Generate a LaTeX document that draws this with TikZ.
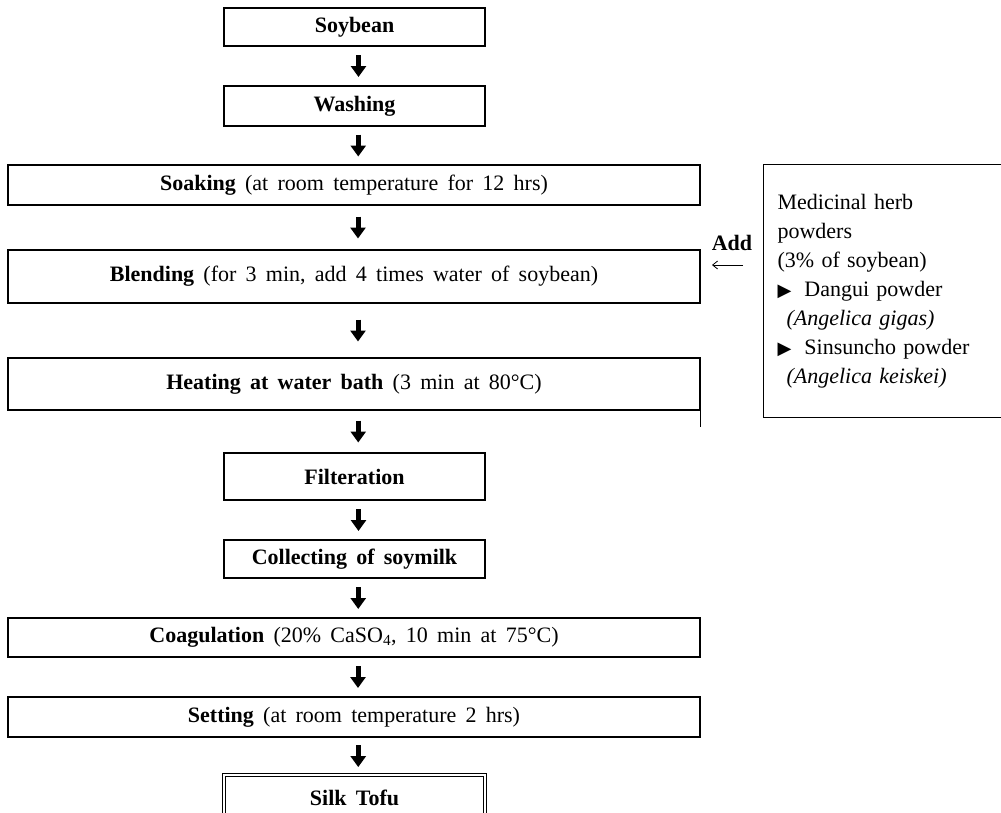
\documentclass[tikz,border=0pt]{standalone}
\usepackage{fontspec}
\setmainfont{Liberation Serif}
\newfontfamily\symf{DejaVu Sans}
\usetikzlibrary{arrows.meta,calc}
\newcommand\fsz{\fontsize{22}{29}\selectfont\spaceskip=0.42em plus 0.1em minus 0.05em}
\newcommand\hsz{\fontsize{22}{29}\selectfont\spaceskip=0.5em plus 0.1em minus 0.05em}
\newcommand\flowarrow[2]{\draw[blk] ($(#1.south)!.5!(#2.north)+(4,-11)$) -- ($(#1.south)!.5!(#2.north)+(4,11)$);}
\begin{document}
\begin{tikzpicture}[x=1pt,y=-1pt,
 box/.style={draw, line width=1.1pt, inner sep=0pt, font=\fsz},
 wide/.style={box, minimum width=692pt},
 narrow/.style={box, minimum width=261pt},
 blk/.style={line width=5pt, -{Triangle[width=15pt,length=11pt]}}]
\clip (0,0) rectangle (1001,812);
\fill[white] (0,0) rectangle (1001,812);
\node[narrow, minimum height=38pt] (soy) at (354.5,27) {\textbf{Soybean}};
\node[narrow, minimum height=40pt] (wash) at (354.5,106) {\textbf{Washing}};
\node[wide, minimum height=40pt] (soak) at (354,185) {\textbf{Soaking} (at room temperature for 12 hrs)};
\node[wide, minimum height=53pt] (blend) at (354,276.5) {\textbf{Blending} (for 3 min, add 4 times water of soybean)};
\node[wide, minimum height=52pt] (heat) at (354,384) {\textbf{Heating at water bath} (3 min at 80°C)};
\node[narrow, minimum height=47pt] (filt) at (354.5,476.5) {\textbf{Filteration}};
\node[narrow, minimum height=38pt] (coll) at (354.5,559) {\textbf{Collecting of soymilk}};
\node[wide, minimum height=39pt] (coag) at (354,637.5) {\textbf{Coagulation} (20\% CaSO\textsubscript{4}, 10 min at 75°C)};
\node[wide, minimum height=40pt] (set) at (354,717) {\textbf{Setting} (at room temperature 2 hrs)};
\node[narrow, double, double distance=2pt, line width=0.8pt, minimum height=46pt] (tofu) at (354.5,798) {\textbf{Silk Tofu}};
\draw[line width=1.1pt] (heat.south east) -- ++(0,16);
\flowarrow{soy}{wash}
\flowarrow{wash}{soak}
\flowarrow{soak}{blend}
\flowarrow{blend}{heat}
\flowarrow{heat}{filt}
\flowarrow{filt}{coll}
\flowarrow{coll}{coag}
\flowarrow{coag}{set}
\flowarrow{set}{tofu}
\node[draw, line width=1.1pt, anchor=north west, minimum width=260pt, minimum height=253pt,
  text width=232pt, align=left, inner xsep=14pt, inner ysep=0pt, font=\hsz] (herb) at (763,164)
  {Medicinal herb\\powders\\(3\% of soybean)\\
   {\symf\fontsize{18}{29}\selectfont ▶}\hspace{13pt}Dangui powder\\
   \hspace*{9pt}\textit{(Angelica gigas)}\\
   {\symf\fontsize{18}{29}\selectfont ▶}\hspace{13pt}Sinsuncho powder\\
   \hspace*{9pt}\textit{(Angelica keiskei)}};
\node[font=\fsz\bfseries, inner sep=0pt] (add) at (732,243) {Add};
\coordinate (aR) at (743,265);
\coordinate (aL) at (712,265);
\draw[line width=0.8pt, -{Straight Barb[length=5pt,width=8pt]}] (aR) -- (aL);
\end{tikzpicture}
\end{document}
